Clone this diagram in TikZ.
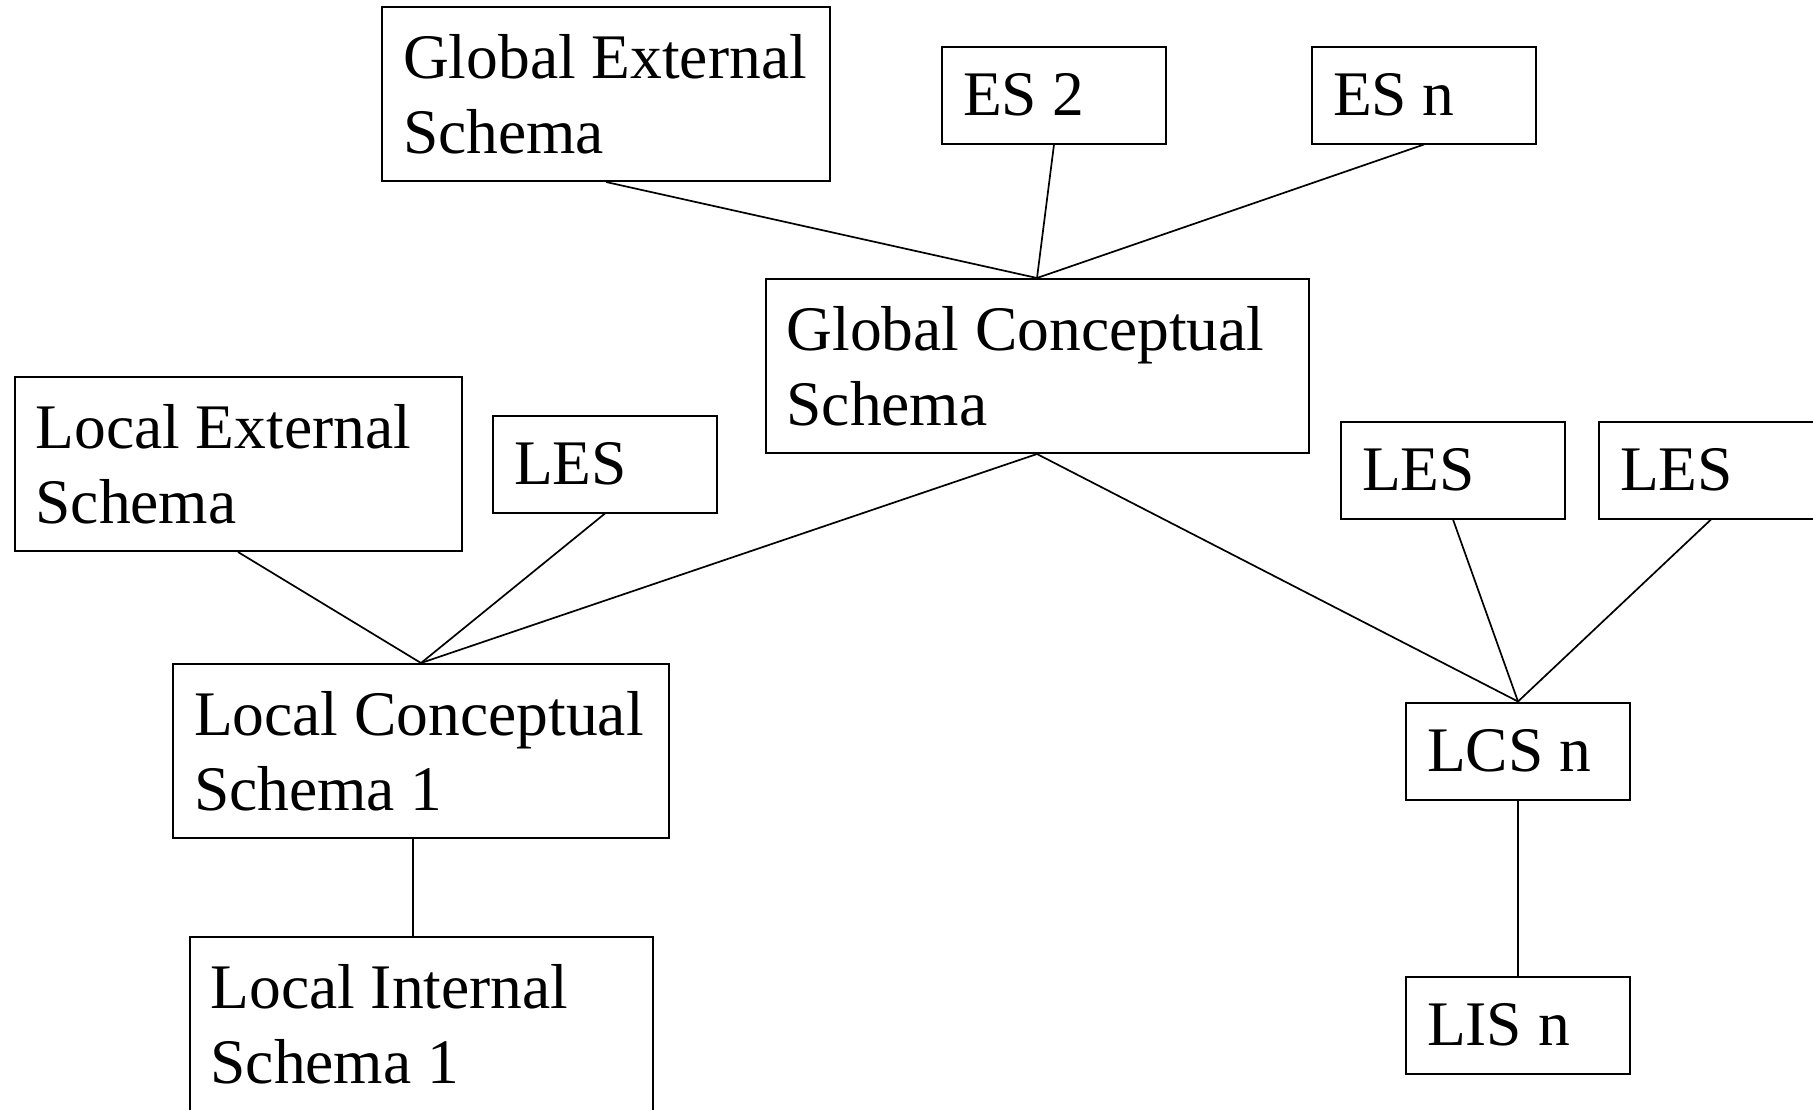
\documentclass[tikz,border=0pt]{standalone}
\usepackage{fontspec}
\setmainfont{Liberation Serif}
\usetikzlibrary{positioning}

\begin{document}
\begin{tikzpicture}[x=1pt, y=-1pt,
    line width=1.7pt,
    font=\fontsize{63.5}{75}\selectfont,
    big/.style={%
      rectangle, draw=black, line width=2pt, fill=white,
      minimum height=174pt, inner xsep=21pt, inner ysep=0pt, align=flush left
    },
    small/.style={%
      rectangle, draw=black, line width=2pt, fill=white,
      minimum height=97pt, text width=182pt, inner xsep=21pt, inner ysep=0pt, align=flush left
    }
]
    \useasboundingbox (0,0) rectangle (1813,1109);

    \node[big, text width=406pt] (ges)  at (606,94)     {Global External\\Schema};
    \node[small] (es2)  at (1054,95)                    {ES 2};
    \node[small] (esn)  [right = 144pt of es2]          {ES n};
    \node[big, text width=501pt] (gcs)  at (1037,366)   {Global Conceptual\\Schema};
    \node[big, text width=405pt] (lext) at (238,464)    {Local External\\Schema};
    \node[small] (les1) at (605,464)                    {LES};
    \node[small] (les2) at (1453,470)                   {LES};
    \node[small] (les3) [right = 32pt of les2]          {LES};
    \node[big, text width=454pt] (lcs1) at (421,751)    {Local Conceptual\\Schema 1};
    \node[small] (lcsn) at (1518,751)                   {LCS n};
    \node[big, text width=421pt] (lis1) at (421,1024)   {Local Internal\\Schema 1};
    \node[small] (lisn) [below = 175pt of lcsn]         {LIS n};

    \path (ges.south)  edge (gcs.north)
          (es2.south)  edge (gcs.north)
          (esn.south)  edge (gcs.north)
          (lext.south) edge (lcs1.north)
          (les1.south) edge (lcs1.north)
          (gcs.south)  edge (lcs1.north)
          (gcs.south)  edge (lcsn.north)
          (les2.south) edge (lcsn.north)
          (les3.south) edge (lcsn.north)
          ([xshift=-8pt]lcs1.south) edge ([xshift=-8pt]lis1.north)
          (lcsn.south) edge (lisn.north)
    ;

\end{tikzpicture}
\end{document}
